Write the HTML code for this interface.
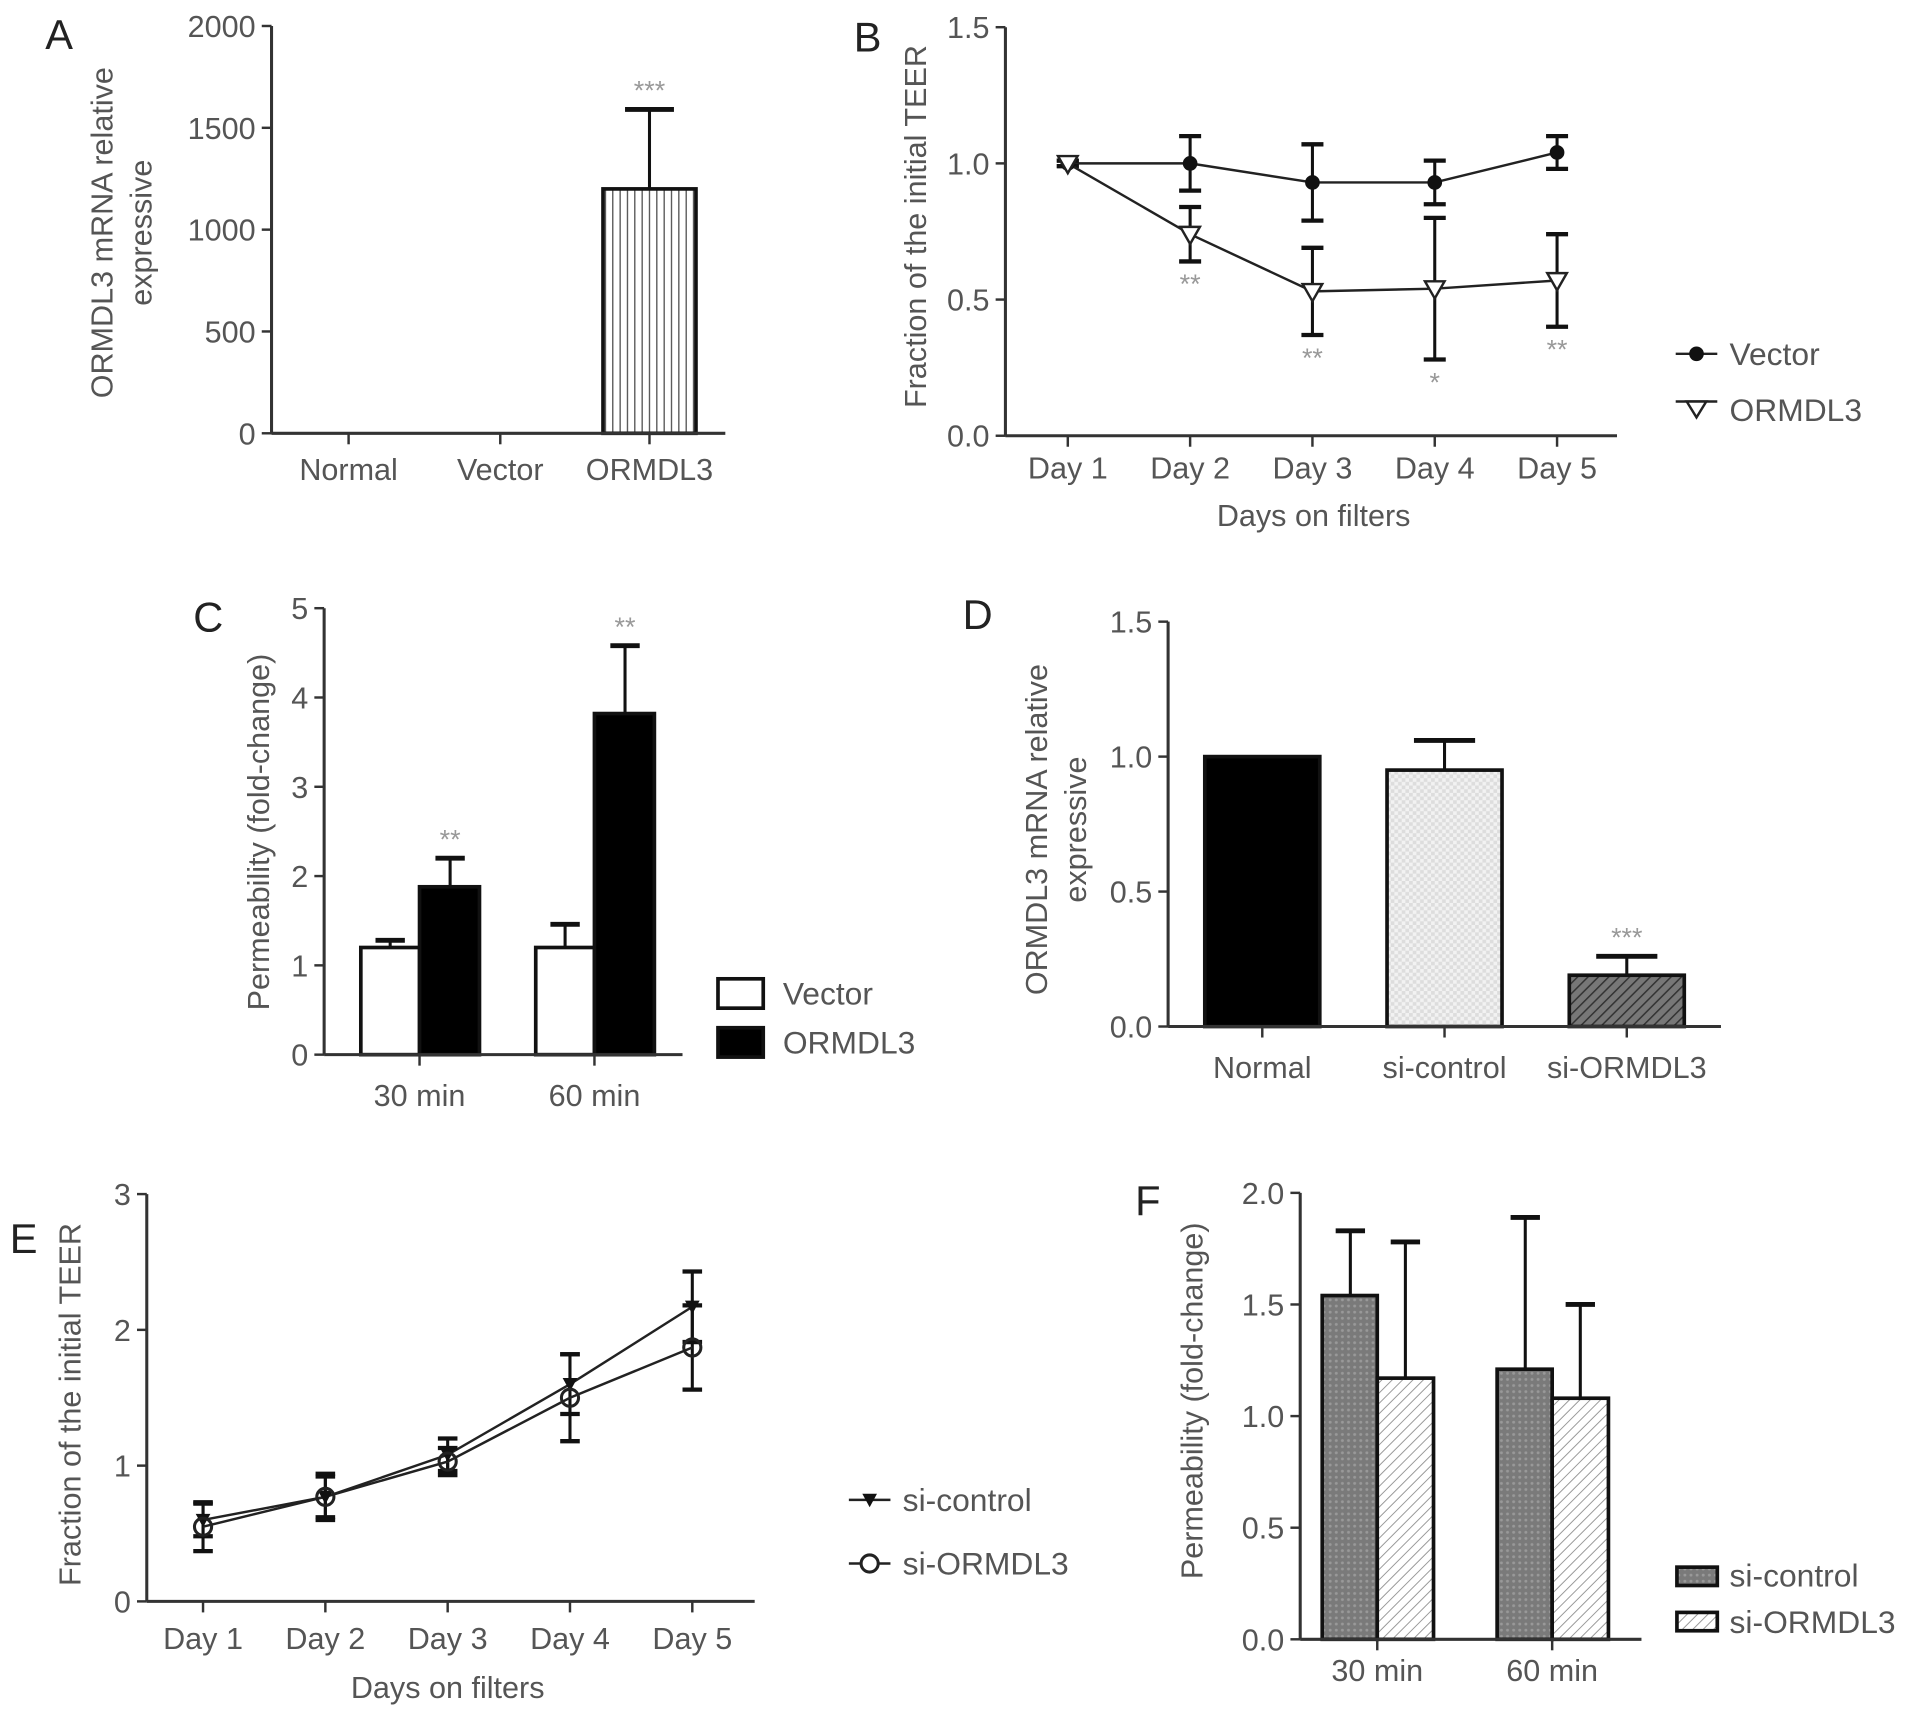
<!DOCTYPE html>
<html><head><meta charset="utf-8">
<style>
html,body{margin:0;padding:0;background:#fff;}
svg{display:block;}
text{font-family:"Liberation Sans",sans-serif;fill:#555;}
</style></head>
<body>
<svg id="fig" width="1913" height="1713" viewBox="0 0 1564 1400" xmlns="http://www.w3.org/2000/svg">
<defs>
<pattern id="pVert" width="6" height="10" patternUnits="userSpaceOnUse"><rect width="6" height="10" fill="#fff"/><line x1="3" y1="0" x2="3" y2="10" stroke="#444" stroke-width="1"/></pattern>
<pattern id="pCheck" width="6" height="6" patternUnits="userSpaceOnUse"><rect width="6" height="6" fill="#f2f2f2"/><rect width="3" height="3" fill="#ddd"/><rect x="3" y="3" width="3" height="3" fill="#ddd"/></pattern>
<pattern id="pDark" width="6" height="6" patternUnits="userSpaceOnUse" patternTransform="rotate(45)"><rect width="6" height="6" fill="#777"/><line x1="0" y1="0" x2="0" y2="6" stroke="#333" stroke-width="2.5"/></pattern>
<pattern id="pDots" width="5" height="5" patternUnits="userSpaceOnUse"><rect width="5" height="5" fill="#7a7a7a"/><circle cx="2.5" cy="2.5" r="1.2" fill="#999"/></pattern>
<pattern id="pLight" width="6" height="6" patternUnits="userSpaceOnUse" patternTransform="rotate(45)"><rect width="6" height="6" fill="#fff"/><line x1="0" y1="0" x2="0" y2="6" stroke="#999" stroke-width="1.6"/></pattern>
</defs>
</svg>
<script>
// ---- Panel A data ----
const aCats=["Normal","Vector","ORMDL3"];
const aVals=[0,0,1200];
const aErr=[0,0,390];
const aTicks=[0,500,1000,1500,2000];
// ---- Panel B data ----
const bDays=["Day 1","Day 2","Day 3","Day 4","Day 5"];
const bVector=[1.0,1.0,0.93,0.93,1.04];
const bVectorErr=[0.01,0.10,0.14,0.08,0.06];
const bOrm=[1.0,0.74,0.53,0.54,0.57];
const bOrmErr=[0.01,0.10,0.16,0.26,0.17];
const bStars=["","**","**","*","**"];
const bTicks=[0,0.5,1.0,1.5];
// ---- Panel C data ----
const cGroups=["30 min","60 min"];
const cVector=[1.2,1.2];
const cVectorErr=[0.08,0.26];
const cOrm=[1.88,3.82];
const cOrmErr=[0.32,0.76];
const cTicks=[0,1,2,3,4,5];
// ---- Panel D data ----
const dCats=["Normal","si-control","si-ORMDL3"];
const dVals=[1.0,0.95,0.19];
const dErr=[0,0.11,0.07];
const dTicks=[0,0.5,1.0,1.5];
// ---- Panel E data ----
const eDays=["Day 1","Day 2","Day 3","Day 4","Day 5"];
const eCtrl=[0.6,0.77,1.08,1.6,2.17];
const eCtrlErr=[0.12,0.15,0.12,0.22,0.26];
const eSi=[0.55,0.77,1.03,1.5,1.87];
const eSiErr=[0.18,0.17,0.1,0.32,0.31];
const eTicks=[0,1,2,3];
// ---- Panel F data ----
const fGroups=["30 min","60 min"];
const fCtrl=[1.54,1.21];
const fCtrlErr=[0.29,0.68];
const fSi=[1.17,1.08];
const fSiErr=[0.61,0.42];
const fTicks=[0,0.5,1.0,1.5,2.0];

const svg=document.getElementById('fig');
const NS='http://www.w3.org/2000/svg';
function mk(tag,attrs,parent,txt){const e=document.createElementNS(NS,tag);for(const k in attrs)e.setAttribute(k,attrs[k]);if(txt!==undefined)e.textContent=txt;(parent||svg).appendChild(e);return e;}
function grp(name){const g=mk('g',{});


return g;}
function scale(v0,v1,p0,p1){return v=>p0+(v-v0)/(v1-v0)*(p1-p0);}
function fmt(t,dec){return dec?t.toFixed(1):String(t);}
function yAxis(g,x,ys,ticks,dec){
 mk('line',{x1:x,y1:ys(ticks[0]),x2:x,y2:ys(ticks[ticks.length-1]),stroke:'#333','stroke-width':2.5},g);
 ticks.forEach(t=>{mk('line',{x1:x-8,y1:ys(t),x2:x,y2:ys(t),stroke:'#333','stroke-width':2},g);
  const tx=mk('text',{x:x-13,y:ys(t)+9,'font-size':25,'text-anchor':'end'},g,fmt(t,dec));
  
  });
}
function xAxis(g,x0,x1,y,centers,labels,ly){
 mk('line',{x1:x0,y1:y,x2:x1,y2:y,stroke:'#333','stroke-width':2.5},g);
 centers.forEach((c,i)=>{mk('line',{x1:c,y1:y,x2:c,y2:y+9,stroke:'#333','stroke-width':2},g);
  const tx=mk('text',{x:c,y:ly,'font-size':25,'text-anchor':'middle'},g,labels[i]);
  
  });
}
function panelLabel(g,t,x,y){const e=mk('text',{x:x,y:y,'font-size':34,style:'fill:#222'},g,t);
 
 }
function yTitle(g,lines,x,cy){lines.forEach((l,i)=>{const e=mk('text',{x:0,y:0,'font-size':25,'text-anchor':'middle',transform:`translate(${x+i*32},${cy}) rotate(-90)`},g,l);
 
 });}
function bar(g,x0,x1,ys,v,fill,name){const r=mk('rect',{x:x0,y:ys(v),width:x1-x0,height:ys(0)-ys(v),fill:fill,stroke:'#111','stroke-width':3},g);
 
 return r;}
function errUp(g,c,ys,v,e,hw){if(e<=0)return;mk('line',{x1:c,y1:ys(v),x2:c,y2:ys(v+e),stroke:'#111','stroke-width':2.5},g);
 mk('line',{x1:c-hw,y1:ys(v+e),x2:c+hw,y2:ys(v+e),stroke:'#111','stroke-width':4},g);}
function errBoth(g,c,ys,v,e,hw){mk('line',{x1:c,y1:ys(v-e),x2:c,y2:ys(v+e),stroke:'#111','stroke-width':2.5},g);
 [v-e,v+e].forEach(y=>mk('line',{x1:c-hw,y1:ys(y),x2:c+hw,y2:ys(y),stroke:'#111','stroke-width':3.5},g));}
function stars(g,x,y,s){const e=mk('text',{x:x,y:y,'font-size':22,'text-anchor':'middle',style:'fill:#999'},g,s);
 
 }
function legText(g,x,y,t){const e=mk('text',{x:x,y:y,'font-size':26},g,t);
 
 }

// Panel A
(function(){const g=grp('panel-a');const ys=scale(0,2000,354,21);
 panelLabel(g,'A',37,40);yTitle(g,['ORMDL3 mRNA relative','expressive'],92,190);
 const cx=[285,409,531];
 aVals.forEach((v,i)=>{if(v>0){bar(g,cx[i]-38,cx[i]+38,ys,v,'url(#pVert)','bar-'+aCats[i].toLowerCase());errUp(g,cx[i],ys,v,aErr[i],20);stars(g,cx[i],ys(v+aErr[i])-8,'***');}});
 yAxis(g,222,ys,aTicks,false);xAxis(g,222,593,ys(0),cx,aCats,392);
})();
// Panel B
(function(){const g=grp('panel-b');const ys=scale(0,1.5,356,22);
 panelLabel(g,'B',698,42);yTitle(g,['Fraction of the initial TEER'],757,185);
 const xs=i=>873+i*100;
 yAxis(g,822,ys,bTicks,true);xAxis(g,822,1322,ys(0),bDays.map((d,i)=>xs(i)),bDays,391);
 const t=mk('text',{x:1074,y:430,'font-size':25,'text-anchor':'middle'},g,'Days on filters');
 
 
 [[bVector,bVectorErr],[bOrm,bOrmErr]].forEach(([v,e])=>{v.forEach((y,i)=>errBoth(g,xs(i),ys,y,e[i],9));
  mk('polyline',{points:v.map((y,i)=>xs(i)+','+ys(y)).join(' '),fill:'none',stroke:'#222','stroke-width':2},g);});
 bVector.forEach((y,i)=>{const c=mk('circle',{cx:xs(i),cy:ys(y),r:6,fill:'#111'},g);
  
  });
 bOrm.forEach((y,i)=>{const p=mk('path',{d:`M${xs(i)-8},${ys(y)-6} L${xs(i)+8},${ys(y)-6} L${xs(i)},${ys(y)+8} Z`,fill:'#fff',stroke:'#222','stroke-width':2},g);
  
  
  if(bStars[i])stars(g,xs(i),ys(y-bOrmErr[i])+26,bStars[i]);});
 mk('line',{x1:1370,y1:289,x2:1404,y2:289,stroke:'#222','stroke-width':2},g);mk('circle',{cx:1387,cy:289,r:6,fill:'#111'},g);legText(g,1414,298,'Vector');
 mk('line',{x1:1370,y1:328,x2:1404,y2:328,stroke:'#222','stroke-width':2},g);mk('path',{d:'M1379,328 L1395,328 L1387,341 Z',fill:'#fff',stroke:'#222','stroke-width':2},g);legText(g,1414,344,'ORMDL3');
})();
// Panel C
(function(){const g=grp('panel-c');const ys=scale(0,5,862,497);
 panelLabel(g,'C',158,516);yTitle(g,['Permeability (fold-change)'],220,680);
 const cx=[343,486];
 cGroups.forEach((n,i)=>{bar(g,cx[i]-48,cx[i],ys,cVector[i],'#fff','bar-vector');errUp(g,cx[i]-24,ys,cVector[i],cVectorErr[i],12);
  bar(g,cx[i],cx[i]+49,ys,cOrm[i],'#000','bar-ormdl3');errUp(g,cx[i]+25,ys,cOrm[i],cOrmErr[i],12);
  stars(g,cx[i]+25,ys(cOrm[i]+cOrmErr[i])-8,'**');});
 yAxis(g,265,ys,cTicks,false);xAxis(g,265,558,ys(0),cx,cGroups,904);
 mk('rect',{x:587,y:800,width:37,height:24,fill:'#fff',stroke:'#111','stroke-width':3},g);legText(g,640,821,'Vector');
 mk('rect',{x:587,y:840,width:37,height:24,fill:'#000',stroke:'#111','stroke-width':3},g);legText(g,640,861,'ORMDL3');
})();
// Panel D
(function(){const g=grp('panel-d');const ys=scale(0,1.5,839,508);
 panelLabel(g,'D',787,514);yTitle(g,['ORMDL3 mRNA relative','expressive'],856,678);
 const cx=[1032,1181,1330];const fills=['#000','url(#pCheck)','url(#pDark)'];
 dVals.forEach((v,i)=>{bar(g,cx[i]-47,cx[i]+47,ys,v,fills[i],'bar-'+dCats[i].toLowerCase());errUp(g,cx[i],ys,v,dErr[i],25);});
 stars(g,cx[2],ys(dVals[2]+dErr[2])-8,'***');
 yAxis(g,955,ys,dTicks,true);xAxis(g,955,1407,ys(0),cx,dCats,881);
})();
// Panel E
(function(){const g=grp('panel-e');const ys=scale(0,3,1309,976);
 panelLabel(g,'E',8,1024);yTitle(g,['Fraction of the initial TEER'],66,1148);
 const xs=i=>166+i*100;
 yAxis(g,120,ys,eTicks,false);xAxis(g,120,617,ys(0),eDays.map((d,i)=>xs(i)),eDays,1348);
 const t=mk('text',{x:366,y:1388,'font-size':25,'text-anchor':'middle'},g,'Days on filters');
 
 
 [[eCtrl,eCtrlErr],[eSi,eSiErr]].forEach(([v,e])=>{v.forEach((y,i)=>errBoth(g,xs(i),ys,y,e[i],8));
  mk('polyline',{points:v.map((y,i)=>xs(i)+','+ys(y)).join(' '),fill:'none',stroke:'#222','stroke-width':2},g);});
 eCtrl.forEach((y,i)=>{const p=mk('path',{d:`M${xs(i)-6},${ys(y)-5} L${xs(i)+6},${ys(y)-5} L${xs(i)},${ys(y)+6} Z`,fill:'#111'},g);
  
  });
 eSi.forEach((y,i)=>{const c=mk('circle',{cx:xs(i),cy:ys(y),r:7,fill:'none',stroke:'#222','stroke-width':2.5},g);
  
  });
 mk('line',{x1:694,y1:1226,x2:728,y2:1226,stroke:'#222','stroke-width':2},g);mk('path',{d:'M705,1221 L717,1221 L711,1232 Z',fill:'#111'},g);legText(g,738,1235,'si-control');
 mk('line',{x1:694,y1:1278,x2:728,y2:1278,stroke:'#222','stroke-width':2},g);mk('circle',{cx:711,cy:1278,r:7,fill:'#fff',stroke:'#222','stroke-width':2.5},g);legText(g,738,1287,'si-ORMDL3');
})();
// Panel F
(function(){const g=grp('panel-f');const ys=scale(0,2,1340,975);
 panelLabel(g,'F',928,993);yTitle(g,['Permeability (fold-change)'],983,1145);
 const cx=[1126,1269];
 fGroups.forEach((n,i)=>{bar(g,cx[i]-45,cx[i],ys,fCtrl[i],'url(#pDots)','bar-si-control');errUp(g,cx[i]-22,ys,fCtrl[i],fCtrlErr[i],12);
  bar(g,cx[i],cx[i]+46,ys,fSi[i],'url(#pLight)','bar-si-ormdl3');errUp(g,cx[i]+23,ys,fSi[i],fSiErr[i],12);});
 yAxis(g,1063,ys,fTicks,true);xAxis(g,1063,1342,ys(0),cx,fGroups,1374);
 mk('rect',{x:1371,y:1281,width:33,height:15,fill:'url(#pDots)',stroke:'#111','stroke-width':3},g);legText(g,1414,1297,'si-control');
 mk('rect',{x:1371,y:1318,width:33,height:15,fill:'url(#pLight)',stroke:'#111','stroke-width':3},g);legText(g,1414,1335,'si-ORMDL3');
})();
</script>
</body></html>
